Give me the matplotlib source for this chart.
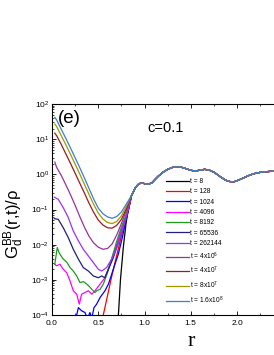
import numpy as np
import matplotlib
matplotlib.use("Agg")
import matplotlib.pyplot as plt
from matplotlib.ticker import LogLocator, MultipleLocator, NullFormatter

#########################################################
# DATA  (stored as log10 G)
#########################################################

labels = ["t = 8", "t = 128", "t = 1024", "t = 4096", "t = 8192", "t = 65536",
          "t = 262144", "t = 4x10$^6$", "t = 4x10$^7$", "t = 8x10$^7$",
          "t = 1.6x10$^8$"]
colors = ["#000000", "#ff0000", "#0000ff", "#ff00ff", "#1f9a1f", "#20207f",
          "#9932ff", "#993399", "#a01a1a", "#a09a00", "#3d7fd0"]

# common tail, r > 0.86, all curves collapse on it
r_tail  = [0.86, 0.88, 0.90, 0.93, 0.95, 0.98, 1.00, 1.04, 1.08, 1.12, 1.15,
           1.20, 1.25, 1.30, 1.35, 1.40, 1.45, 1.50, 1.55, 1.60, 1.65, 1.70,
           1.76, 1.82, 1.88, 1.93, 1.97, 2.02, 2.08, 2.14, 2.20, 2.26, 2.32, 2.40, 2.46]
lg_tail = [-0.60, -0.50, -0.38, -0.29, -0.26, -0.25, -0.265, -0.284, -0.24, -0.13,
           -0.05, 0.06, 0.14, 0.195, 0.216, 0.20, 0.16, 0.115, 0.094, 0.12, 0.142,
           0.12, 0.045, -0.07, -0.17, -0.21, -0.21, -0.16, -0.09, -0.02, 0.03, 0.06,
           0.075, 0.094, 0.10]

# short-r part of each curve
r_8   = [0.70, 0.72, 0.74, 0.77, 0.80, 0.83]
lg_8  = [-4.6, -3.9, -3.0, -2.1, -1.4, -0.9]

r_128  = [0.53, 0.55, 0.60, 0.65, 0.70, 0.75, 0.80, 0.83]
lg_128 = [-4.3, -4.05, -3.45, -2.85, -2.3, -1.75, -1.25, -0.95]

r_1024  = [0.25, 0.285, 0.32, 0.357, 0.382, 0.41, 0.43, 0.454, 0.483, 0.52, 0.573,
           0.61, 0.645, 0.68, 0.717, 0.76, 0.80, 0.83]
lg_1024 = [-4.2, -3.79, -3.88, -3.93, -4.1, -3.93, -4.1, -3.79, -3.69, -3.5, -3.31,
           -3.12, -2.84, -2.56, -2.27, -1.8, -1.3, -0.95]

r_4096  = [0.03, 0.05, 0.086, 0.122, 0.159, 0.195, 0.23, 0.267, 0.295, 0.32, 0.357,
           0.393, 0.43, 0.465, 0.52, 0.573, 0.62, 0.68, 0.74, 0.80, 0.83]
lg_4096 = [-2.56, -2.6, -2.56, -2.7, -2.8, -3.03, -3.31, -3.41, -3.69, -3.41, -3.36,
           -3.31, -3.41, -3.31, -3.12, -2.94, -2.6, -2.15, -1.65, -1.2, -0.95]

r_8192  = [0.03, 0.057, 0.08, 0.122, 0.16, 0.195, 0.23, 0.267, 0.303, 0.34, 0.375,
           0.40, 0.43, 0.465, 0.49, 0.52, 0.555, 0.60, 0.65, 0.70, 0.75, 0.80, 0.83]
lg_8192 = [-2.56, -2.08, -2.25, -2.41, -2.5, -2.65, -2.75, -2.89, -3.08, -3.05, -3.12,
           -3.18, -3.27, -3.36, -3.3, -3.27, -3.12, -2.8, -2.35, -1.9, -1.5, -1.15, -0.9]

r_65536  = [0.025, 0.068, 0.122, 0.176, 0.23, 0.285, 0.338, 0.393, 0.447, 0.50,
            0.537, 0.57, 0.61, 0.663, 0.735, 0.807, 0.83]
lg_65536 = [-1.26, -1.28, -1.52, -1.80, -2.13, -2.41, -2.65, -2.75, -2.89, -2.94,
            -2.89, -2.94, -2.70, -2.37, -1.80, -1.23, -0.98]

r_262144  = [0.025, 0.068, 0.122, 0.176, 0.23, 0.285, 0.338, 0.393, 0.447, 0.50,
             0.537, 0.59, 0.645, 0.70, 0.77, 0.83]
lg_262144 = [-0.65, -0.71, -0.95, -1.23, -1.61, -1.89, -2.13, -2.32, -2.51, -2.70,
             -2.75, -2.65, -2.41, -2.09, -1.52, -0.95]

r_top = [0.03, 0.05, 0.10, 0.15, 0.20, 0.25, 0.30, 0.35, 0.40, 0.45, 0.50, 0.55,
         0.60, 0.65, 0.70, 0.75, 0.80]
lg_4e6   = [0.35, 0.2, -0.03, -0.3, -0.58, -0.88, -1.2, -1.5, -1.76, -1.95, -2.07,
            -2.13, -2.11, -1.98, -1.72, -1.4, -1.05]
lg_4e7   = [1.17, 1.1, 0.85, 0.58, 0.31, 0.03, -0.25, -0.53, -0.82, -1.08, -1.3,
            -1.44, -1.52, -1.53, -1.45, -1.28, -1.0]
lg_8e7   = [1.43, 1.36, 1.1, 0.84, 0.57, 0.29, 0.01, -0.28, -0.57, -0.85, -1.1,
            -1.27, -1.37, -1.40, -1.34, -1.18, -0.93]
lg_16e8  = [1.62, 1.55, 1.28, 1.02, 0.75, 0.47, 0.19, -0.1, -0.4, -0.7, -0.96,
            -1.12, -1.21, -1.25, -1.2, -1.07, -0.86]

heads = [(r_8, lg_8), (r_128, lg_128), (r_1024, lg_1024), (r_4096, lg_4096),
         (r_8192, lg_8192), (r_65536, lg_65536), (r_262144, lg_262144),
         (r_top, lg_4e6), (r_top, lg_4e7), (r_top, lg_8e7), (r_top, lg_16e8)]

#########################################################
# FIGURE
#########################################################
plt.rcParams["font.family"] = ["Liberation Sans", "DejaVu Sans"]
plt.rcParams["mathtext.fontset"] = "custom"
plt.rcParams["mathtext.rm"] = "Liberation Sans"
plt.rcParams["mathtext.it"] = "Liberation Sans:italic"

fig = plt.figure(figsize=(2.74, 3.55), dpi=100)
ax = fig.add_axes([52 / 274, 1 - 315 / 355, 1.017 - 52 / 274, (315 - 104) / 355])

for (rh, lh), lab, col in zip(heads, labels, colors):
    r = np.concatenate([rh, r_tail])
    g = 10.0 ** np.concatenate([lh, lg_tail])
    ax.plot(r, g, color=col, lw=0.9, label=lab)

ax.set_yscale("log")
ax.set_xlim(0, 2.45)
ax.set_ylim(1e-4, 1e2)

ax.xaxis.set_major_locator(MultipleLocator(0.5))
ax.xaxis.set_minor_locator(MultipleLocator(0.25))
ax.yaxis.set_major_locator(LogLocator(base=10, numticks=10))
ax.yaxis.set_minor_locator(LogLocator(base=10, subs=np.arange(2, 10), numticks=20))
ax.yaxis.set_minor_formatter(NullFormatter())
ax.tick_params(which="both", direction="in", top=True, right=False,
               labelsize=6, pad=2)
ax.tick_params(axis="x", pad=3.5)
ax.tick_params(which="major", length=3, width=0.6)
ax.tick_params(which="minor", length=1.6, width=0.5)
for s in ax.spines.values():
    s.set_linewidth(0.8)

ax.text(0.028, 0.93, "(e)", transform=ax.transAxes, fontsize=13.5, va="center")
ax.text(0.42, 0.885, "c=0.1", transform=ax.transAxes, fontsize=10.5, va="center")

fig.text(14 / 274, 1 - 224 / 355, r"G$_{\rm d}^{\rm BB}$(r,t)/ρ", rotation=90,
         fontsize=12, ha="center", va="center")
fig.text(191 / 274, 1 - 342 / 355, "r", family="Liberation Serif", fontsize=16,
         ha="center", va="center")

ax.legend(loc="upper left", bbox_to_anchor=(166 / 274, 1 - 178 / 355),
          bbox_transform=fig.transFigure, frameon=False, fontsize=4.8,
          handlelength=3.4, handletextpad=0.15, labelspacing=0.5,
          borderpad=0, borderaxespad=0)

fig.savefig("out.png", dpi=100)
